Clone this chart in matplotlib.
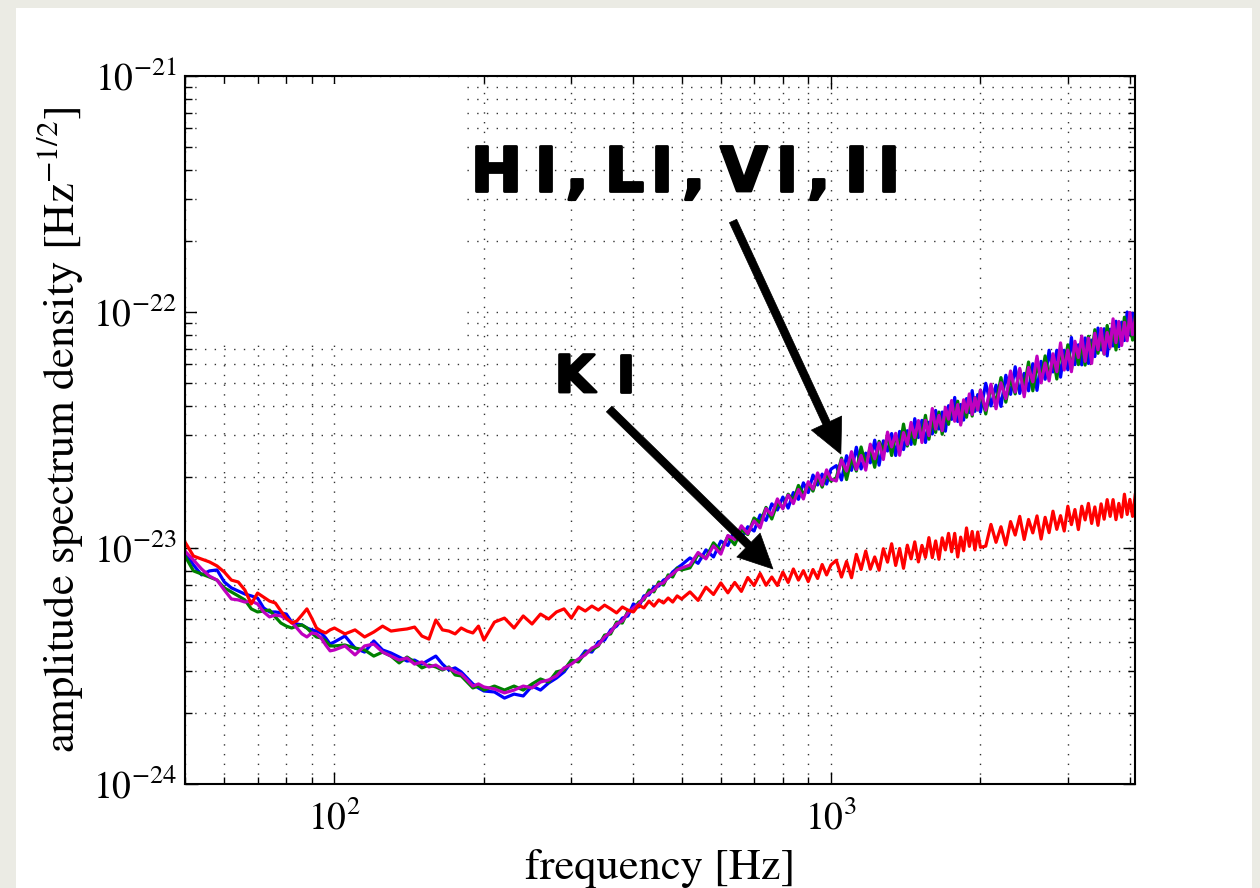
import numpy as np
import matplotlib
matplotlib.use('Agg')
import matplotlib.pyplot as plt
import matplotlib.patheffects as pe
from matplotlib.patches import Rectangle
from matplotlib.ticker import LogLocator, NullFormatter

plt.rcParams['font.family'] = 'STIXGeneral'
plt.rcParams['mathtext.fontset'] = 'stix'

# frequency bins [Hz]
freq = [50, 52, 54, 56, 58, 60, 62, 64, 66, 68, 70, 72, 74, 76, 78, 80, 82, 84, 86, 88, 90, 92, 94, 96, 98, 100,
        105, 110, 115, 120, 125, 130, 135, 140, 145, 150, 155, 160, 165, 170, 175, 180, 185, 190, 195, 200,
        210, 220, 230, 240, 250, 260, 270, 280, 290, 300, 310, 320, 330, 340, 350, 360, 370, 380, 390, 400,
        410, 420, 430, 440, 450, 460, 470, 480, 490, 500,
        520, 540, 560, 580, 600, 620, 640, 660, 680, 700, 720, 740, 760, 780, 800, 820, 840, 860, 880, 900,
        920, 940, 960, 980, 1000,
        1025, 1050, 1075, 1100, 1125, 1150, 1175, 1200, 1225, 1250, 1275, 1300, 1325, 1350, 1375, 1400,
        1425, 1450, 1475, 1500, 1525, 1550, 1575, 1600, 1625, 1650, 1675, 1700, 1725, 1750, 1775, 1800,
        1825, 1850, 1875, 1900, 1925, 1950, 1975, 2000,
        2050, 2100, 2150, 2200, 2250, 2300, 2350, 2400, 2450, 2500, 2550, 2600, 2650, 2700, 2750, 2800,
        2850, 2900, 2950, 3000, 3050, 3100, 3150, 3200, 3250, 3300, 3350, 3400, 3450, 3500, 3550, 3600,
        3650, 3700, 3750, 3800, 3850, 3900, 3950, 4000, 4050, 4100]

# log10 of amplitude spectral density [Hz^-1/2]
blue = [-23.017, -23.072, -23.114, -23.097, -23.093, -23.144, -23.169, -23.182, -23.195, -23.203, -23.212, -23.254, -23.271,
        -23.271, -23.275, -23.280, -23.314, -23.322, -23.326, -23.339, -23.347, -23.352, -23.360, -23.381, -23.407, -23.398,
        -23.373, -23.424, -23.441, -23.394, -23.432, -23.445, -23.462, -23.479, -23.475, -23.492,
        -23.475, -23.458, -23.492, -23.517, -23.508, -23.525, -23.551, -23.576, -23.593, -23.606,
        -23.610, -23.636, -23.619, -23.627, -23.585, -23.602, -23.572, -23.551, -23.525, -23.483,
        -23.475, -23.436, -23.441, -23.398, -23.390, -23.347, -23.331, -23.297, -23.288, -23.237,
        -23.250, -23.203, -23.199, -23.165, -23.161, -23.136, -23.127, -23.102, -23.085, -23.072,
        -23.042, -23.065, -23.008, -23.038, -22.971, -22.989, -22.922, -22.957, -22.910, -22.928,
        -22.860, -22.883, -22.813, -22.839, -22.784, -22.831, -22.765, -22.794, -22.724, -22.765,
        -22.691, -22.733, -22.687, -22.729, -22.666,
        -22.651, -22.712, -22.609, -22.671, -22.573, -22.665, -22.598, -22.639, -22.543, -22.649,
        -22.546, -22.589, -22.515, -22.608, -22.506, -22.583, -22.503, -22.561, -22.452, -22.532,
        -22.459, -22.553, -22.467, -22.517, -22.417, -22.496, -22.424, -22.505, -22.397, -22.455,
        -22.362, -22.464, -22.392, -22.458, -22.367, -22.426, -22.333, -22.421, -22.350, -22.424,
        -22.302, -22.398, -22.310, -22.400, -22.268, -22.349, -22.232, -22.345, -22.260, -22.334,
        -22.219, -22.332, -22.209, -22.285, -22.162, -22.254, -22.162, -22.276, -22.162, -22.245,
        -22.108, -22.223, -22.139, -22.224, -22.110, -22.218, -22.119, -22.189, -22.068, -22.161,
        -22.071, -22.186, -22.073, -22.144, -22.039, -22.147, -22.043, -22.121, -22.000, -22.094,
        -22.005, -22.098]

green = [-23.034, -23.097, -23.110, -23.123, -23.136, -23.169, -23.186, -23.203, -23.220, -23.258, -23.271, -23.267, -23.263,
         -23.292, -23.318, -23.331, -23.339, -23.331, -23.326, -23.339, -23.360, -23.377, -23.381, -23.394, -23.415, -23.415,
         -23.411, -23.424, -23.432, -23.458, -23.441, -23.458, -23.487, -23.462, -23.483, -23.508,
         -23.496, -23.504, -23.517, -23.504, -23.538, -23.542, -23.568, -23.593, -23.585, -23.602,
         -23.585, -23.602, -23.585, -23.602, -23.576, -23.555, -23.568, -23.525, -23.517, -23.475,
         -23.483, -23.445, -23.432, -23.415, -23.369, -23.364, -23.314, -23.318, -23.267, -23.263,
         -23.229, -23.220, -23.178, -23.186, -23.144, -23.157, -23.114, -23.123, -23.085, -23.093,
         -23.084, -23.027, -23.042, -22.978, -23.013, -22.951, -22.986, -22.923, -22.943, -22.873,
         -22.894, -22.828, -22.877, -22.809, -22.830, -22.772, -22.799, -22.735, -22.775, -22.727,
         -22.759, -22.695, -22.742, -22.686, -22.716,
         -22.702, -22.619, -22.710, -22.620, -22.674, -22.572, -22.648, -22.574, -22.658, -22.548,
         -22.589, -22.524, -22.608, -22.521, -22.578, -22.475, -22.568, -22.496, -22.560, -22.467,
         -22.524, -22.438, -22.539, -22.452, -22.510, -22.424, -22.518, -22.418, -22.476, -22.383,
         -22.449, -22.378, -22.472, -22.379, -22.446, -22.361, -22.441, -22.363, -22.415, -22.331,
         -22.432, -22.314, -22.387, -22.278, -22.382, -22.280, -22.347, -22.246, -22.321, -22.212,
         -22.334, -22.225, -22.285, -22.186, -22.277, -22.185, -22.284, -22.161, -22.231, -22.139,
         -22.245, -22.139, -22.223, -22.132, -22.225, -22.103, -22.180, -22.075, -22.175, -22.092,
         -22.178, -22.057, -22.142, -22.060, -22.161, -22.055, -22.127, -22.022, -22.107, -22.017,
         -22.119, -22.021]

magenta = [-23.013, -23.051, -23.089, -23.119, -23.136, -23.178, -23.216, -23.220, -23.229, -23.225, -23.237, -23.271, -23.292,
           -23.284, -23.288, -23.301, -23.314, -23.339, -23.364, -23.377, -23.360, -23.364, -23.381, -23.411, -23.436, -23.432,
           -23.415, -23.453, -23.415, -23.407, -23.441, -23.458, -23.475, -23.466, -23.492, -23.483,
           -23.504, -23.496, -23.513, -23.508, -23.525, -23.534, -23.559, -23.585, -23.576, -23.589,
           -23.597, -23.614, -23.602, -23.585, -23.593, -23.568, -23.559, -23.542, -23.508, -23.492,
           -23.470, -23.453, -23.424, -23.411, -23.377, -23.356, -23.322, -23.309, -23.275, -23.254,
           -23.237, -23.212, -23.191, -23.178, -23.153, -23.148, -23.123, -23.110, -23.093, -23.085,
           -23.072, -23.019, -23.046, -22.991, -23.026, -22.947, -22.964, -22.906, -22.939, -22.885,
           -22.915, -22.833, -22.860, -22.792, -22.834, -22.776, -22.812, -22.752, -22.792, -22.719,
           -22.750, -22.682, -22.733, -22.669, -22.708,
           -22.716, -22.626, -22.674, -22.592, -22.667, -22.608, -22.670, -22.560, -22.622, -22.555,
           -22.625, -22.509, -22.572, -22.514, -22.607, -22.511, -22.561, -22.468, -22.532, -22.460,
           -22.553, -22.459, -22.524, -22.409, -22.496, -22.438, -22.503, -22.404, -22.454, -22.375,
           -22.463, -22.392, -22.479, -22.372, -22.425, -22.347, -22.434, -22.363, -22.415, -22.331,
           -22.416, -22.306, -22.410, -22.300, -22.367, -22.250, -22.339, -22.239, -22.359, -22.235,
           -22.296, -22.187, -22.300, -22.216, -22.292, -22.177, -22.253, -22.131, -22.246, -22.161,
           -22.253, -22.124, -22.193, -22.102, -22.209, -22.111, -22.218, -22.090, -22.160, -22.070,
           -22.178, -22.087, -22.150, -22.029, -22.130, -22.040, -22.142, -22.044, -22.122, -22.002,
           -22.096, -22.029]

red = [-22.975, -23.034, -23.047, -23.059, -23.076, -23.102, -23.136, -23.144, -23.178, -23.237, -23.191, -23.208, -23.225,
       -23.233, -23.267, -23.297, -23.318, -23.309, -23.284, -23.258, -23.297, -23.339, -23.352, -23.360, -23.347, -23.339,
       -23.364, -23.347, -23.377, -23.356, -23.331, -23.352, -23.347, -23.343, -23.335, -23.373,
       -23.386, -23.305, -23.347, -23.352, -23.364, -23.339, -23.352, -23.360, -23.331, -23.390,
       -23.314, -23.297, -23.339, -23.288, -23.322, -23.280, -23.301, -23.271, -23.258, -23.297,
       -23.250, -23.267, -23.246, -23.263, -23.242, -23.258, -23.275, -23.250, -23.263, -23.271,
       -23.242, -23.254, -23.225, -23.246, -23.220, -23.233, -23.212, -23.229, -23.203, -23.216,
       -23.186, -23.222, -23.166, -23.197, -23.148, -23.190, -23.146, -23.184, -23.125, -23.159,
       -23.108, -23.158, -23.123, -23.159, -23.102, -23.146, -23.089, -23.136, -23.096, -23.142,
       -23.091, -23.129, -23.070, -23.114, -23.072,
       -23.052, -23.123, -23.057, -23.126, -23.027, -23.091, -23.013, -23.090, -23.038, -23.094,
       -23.003, -23.060, -22.982, -23.074, -23.002, -23.086, -22.988, -23.046, -22.974, -23.059,
       -22.989, -23.040, -22.956, -23.041, -22.970, -23.048, -22.957, -23.008, -22.938, -23.016,
       -22.938, -23.038, -22.954, -23.012, -22.915, -22.993, -22.930, -23.008, -22.932, -22.997,
       -22.992, -22.900, -22.976, -22.910, -22.987, -22.888, -22.945, -22.866, -22.964, -22.879,
       -22.936, -22.864, -22.962, -22.870, -22.935, -22.844, -22.921, -22.863, -22.928, -22.823,
       -22.901, -22.837, -22.922, -22.823, -22.881, -22.811, -22.896, -22.826, -22.904, -22.813,
       -22.878, -22.795, -22.866, -22.795, -22.880, -22.811, -22.869, -22.772, -22.858, -22.794,
       -22.866, -22.775]

# annotation labels, drawn glyph by glyph (offsets in points) to get the wide letter spacing
label_hlvi = ['H', 'I', ',', 'L', 'I', ',', 'V', 'I', ',', 'I', 'I']
gap_hlvi = [0, 46, 68.5, 96.5, 129.5, 152.5, 180, 219.5, 242.5, 269.5, 293]
label_k = ['K', 'I']
gap_k = [0, 44]

fig = plt.figure(figsize=(12.6, 8.88), dpi=100, facecolor='#ebebe4')
# white slide panel
fig.add_artist(Rectangle((16/1260, 0), 1236/1260, 880/888, transform=fig.transFigure,
                         facecolor='white', edgecolor='none', zorder=-1))

ax = fig.add_axes([185/1260, 104/888, 950/1260, 708/888])
ax.set_xscale('log')
ax.set_yscale('log')

ax.plot(freq, 10**np.array(blue), color='#0000ff', lw=2.3)
ax.plot(freq, 10**np.array(green), color='#008000', lw=2.3)
ax.plot(freq, 10**np.array(magenta), color='#bf00bf', lw=2.3)
ax.plot(freq, 10**np.array(red), color='#ff0000', lw=2.3)

ax.set_xlim(50, 4096)
ax.set_ylim(1e-24, 1e-21)

ax.set_xticks([100, 1000])
ax.set_yticks([1e-24, 1e-23, 1e-22, 1e-21])
ax.yaxis.set_minor_locator(LogLocator(base=10, subs=np.arange(2, 10), numticks=20))
ax.xaxis.set_minor_formatter(NullFormatter())
ax.yaxis.set_minor_formatter(NullFormatter())

ax.grid(True, which='both', color='#333333', linestyle=(0, (1, 6)), linewidth=1.0)
ax.tick_params(which='both', direction='in', top=True, right=True, labelsize=27, width=1)
ax.tick_params(which='major', length=9)
ax.tick_params(which='minor', length=5)
ax.tick_params(axis='x', pad=12)
ax.tick_params(axis='y', pad=6)
for s in ax.spines.values():
    s.set_linewidth(1.5)

# blank patch over the upper-left grid
ax.add_patch(Rectangle((0.0126, 0.6243), 0.2834, 0.3644, transform=ax.transAxes,
                       facecolor='white', edgecolor='none', zorder=1.6))

ax.set_xlabel('frequency [Hz]', fontsize=32, labelpad=8)
ax.set_ylabel('amplitude spectrum density [Hz$^{-1/2}$]', fontsize=32, labelpad=6)

bold = [pe.withStroke(linewidth=2, foreground='k')]
for ch, dx in zip(label_hlvi, gap_hlvi):
    ax.annotate(ch, xy=(187.8, 3.256e-22), xytext=(dx, 0), textcoords='offset points',
                fontsize=44, fontweight='bold', family='DejaVu Sans',
                ha='left', va='baseline', path_effects=bold)
for ch, dx in zip(label_k, gap_k):
    ax.annotate(ch, xy=(277.9, 4.58e-23), xytext=(dx, 0), textcoords='offset points',
                fontsize=37, fontweight='bold', family='DejaVu Sans',
                ha='left', va='baseline', path_effects=bold)

arrow = dict(arrowstyle='simple,head_length=0.82,head_width=0.8,tail_width=0.19',
             mutation_scale=30, fc='k', ec='k', lw=0.5, shrinkA=0, shrinkB=0)
ax.annotate('', xy=(1047, 2.50e-23), xytext=(635, 2.43e-22), arrowprops=arrow)
ax.annotate('', xy=(764, 8.15e-24), xytext=(357.5, 3.88e-23), arrowprops=arrow)

fig.savefig('out.png', dpi=100, facecolor=fig.get_facecolor())
